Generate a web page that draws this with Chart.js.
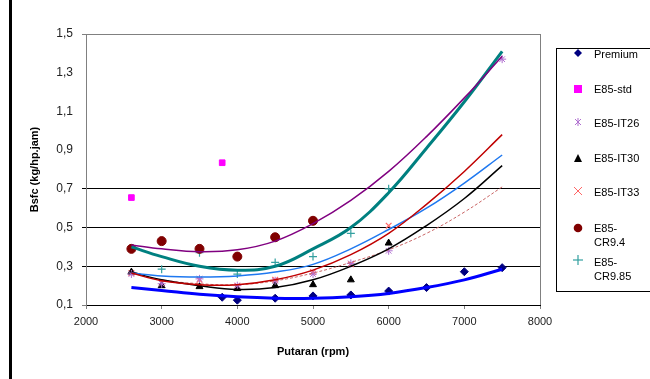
<!DOCTYPE html>
<html><head><meta charset="utf-8">
<script src="https://cdn.jsdelivr.net/npm/chart.js@4.4.0/dist/chart.umd.min.js"></script>
<style>
html,body{margin:0;padding:0;background:#fff;}
#wrap{position:relative;width:650px;height:379px;overflow:hidden;font-family:"Liberation Sans",Arial,sans-serif;background:#fff;}
#c{position:absolute;left:0;top:0;}
#bar{position:absolute;left:9px;top:0;width:3px;height:379px;background:#000;}
#legend{position:absolute;left:556px;top:48px;width:110px;height:244px;border:1px solid #000;box-sizing:border-box;overflow:hidden;}
.item{position:absolute;left:0;width:110px;font-size:11px;color:#000;}
.item svg{position:absolute;left:15px;}
.item span{position:absolute;left:37px;white-space:pre;line-height:14px;}
</style>
</head><body>
<div id="wrap">
<canvas id="c" width="650" height="379"></canvas>
<div id="bar"></div>
<div id="legend"></div>
</div>
<script>
// ---- data ----
const xTickLabels = ['2000','3000','4000','5000','6000','7000','8000'];
const yTickLabels = ['0,1','0,3','0,5','0,7','0,9','1,1','1,3','1,5'];

const premiumRpm  = [3800, 4000, 4500, 5000, 5500, 6000, 6500, 7000, 7500];
const premiumBsfc = [0.14, 0.125, 0.135, 0.147, 0.152, 0.172, 0.19, 0.272, 0.293];

const stdRpm  = [2600, 3800];
const stdBsfc = [0.655, 0.835];

const it26Rpm  = [2600, 3000, 3500, 4000, 4500, 5000, 5500, 6000, 7500];
const it26Bsfc = [0.26, 0.21, 0.235, 0.2, 0.225, 0.26, 0.315, 0.38, 1.37];

const it30Rpm  = [2600, 3000, 3500, 4000, 4500, 5000, 5500, 6000];
const it30Bsfc = [0.27, 0.2, 0.195, 0.185, 0.2, 0.205, 0.23, 0.42];

const it33Rpm  = [2600, 3000, 3500, 4000, 4500, 5000, 5500, 6000];
const it33Bsfc = [0.265, 0.215, 0.23, 0.2, 0.23, 0.27, 0.31, 0.51];

const cr94Rpm  = [2600, 3000, 3500, 4000, 4500, 5000];
const cr94Bsfc = [0.39, 0.43, 0.39, 0.35, 0.45, 0.535];

const cr985Rpm  = [3000, 3500, 4000, 4500, 5000, 5500, 6000];
const cr985Bsfc = [0.285, 0.37, 0.26, 0.32, 0.35, 0.47, 0.70];

// trend curves read at these engine speeds
const trendRpm      = [2600, 3000, 3500, 4000, 4500, 5000, 5500, 6000, 6500, 7000, 7500];
const trendPremium  = [0.19, 0.175, 0.155, 0.142, 0.135, 0.135, 0.143, 0.16, 0.19, 0.23, 0.285];
const trendPurple   = [0.41, 0.39, 0.375, 0.385, 0.43, 0.52, 0.64, 0.79, 0.97, 1.17, 1.385];
const trendTeal     = [0.40, 0.35, 0.30, 0.28, 0.30, 0.39, 0.50, 0.68, 0.91, 1.15, 1.41];
const trendBlack    = [0.27, 0.23, 0.20, 0.18, 0.19, 0.23, 0.30, 0.39, 0.51, 0.65, 0.82];
const trendRed      = [0.265, 0.225, 0.205, 0.205, 0.23, 0.28, 0.36, 0.47, 0.62, 0.79, 0.98];
const trendBlue     = [0.265, 0.25, 0.245, 0.25, 0.27, 0.31, 0.39, 0.49, 0.60, 0.73, 0.875];
const trendPink     = [0.265, 0.23, 0.21, 0.205, 0.225, 0.265, 0.32, 0.385, 0.47, 0.58, 0.71];

const legendLabels = ['Premium','E85-std','E85-IT26','E85-IT30','E85-IT33','E85-\nCR9.4','E85-\nCR9.85'];

// ---- helpers ----
const pts = (xs, ys) => xs.map((x, i) => ({x: x, y: ys[i]}));
function trend(ys, color, width, dash) {
  return {label: '', data: pts(trendRpm, ys), showLine: true, borderColor: color, borderWidth: width,
    borderDash: dash || [], pointRadius: 0, pointHoverRadius: 0, tension: 0.4, fill: false, order: 0};
}
function marks(label, xs, ys, style, color, r, bw) {
  return {label: label, data: pts(xs, ys), showLine: false, pointStyle: style, pointRadius: r,
    pointBackgroundColor: color, pointBorderColor: color, pointBorderWidth: bw || 1, order: 1};
}
const near = (v, t) => Math.abs(v - t) < 1e-6;

const datasets = [
  trend(trendPremium, '#0000FF', 3),
  trend(trendPurple, '#800080', 1.5),
  trend(trendTeal, '#008080', 3),
  trend(trendRed, '#C00000', 1.5),
  trend(trendBlue, '#1E78F0', 1.5),
  trend(trendBlack, '#000000', 1.5),
  trend(trendPink, '#C86464', 1, [3, 2]),
  marks('Premium', premiumRpm, premiumBsfc, 'rectRot', '#000080', 4),
  marks('E85-std', stdRpm, stdBsfc, 'rect', '#FF00FF', 4),
  marks('E85-IT26', it26Rpm, it26Bsfc, 'star', '#B070D0', 4, 1),
  marks('E85-IT30', it30Rpm, it30Bsfc, 'triangle', '#000000', 4),
  marks('E85-IT33', it33Rpm, it33Bsfc, 'crossRot', '#FF6666', 4, 1.2),
  marks('E85-CR9.4', cr94Rpm, cr94Bsfc, 'circle', '#800000', 4.5),
  marks('E85-CR9.85', cr985Rpm, cr985Bsfc, 'cross', '#33A0A0', 4, 1.2)
];

const FONT = '"Liberation Sans", Arial, sans-serif';

new Chart(document.getElementById('c'), {
  type: 'scatter',
  data: {datasets: datasets},
  options: {
    responsive: false,
    animation: false,
    devicePixelRatio: 1,
    layout: {padding: {top: 34, right: 110, left: 0, bottom: 0}},
    plugins: {legend: {display: false}, tooltip: {enabled: false}},
    scales: {
      x: {
        type: 'linear', min: 2000, max: 8000,
        afterFit: s => { s.height = 74; },
        ticks: {stepSize: 1000, padding: 6, color: '#222', font: {family: FONT, size: 11},
          maxRotation: 0, callback: (v) => xTickLabels[Math.round((v - 2000) / 1000)]},
        grid: {drawOnChartArea: true, tickLength: 4,
          color: c => (c.tick && near(c.tick.value, 8000)) ? '#808080' : 'rgba(0,0,0,0)',
          tickColor: '#808080'},
        border: {display: true, color: '#000000', width: 1},
        title: {display: true, text: 'Putaran (rpm)', color: '#000', padding: {bottom: 20, top: 0},
          font: {family: FONT, size: 11, weight: 'bold'}}
      },
      y: {
        min: 0.1, max: 1.5,
        afterFit: s => { s.width = 86; },
        ticks: {stepSize: 0.2, padding: 9, color: '#222', font: {family: FONT, size: 12},
          callback: (v) => yTickLabels[Math.round((v - 0.1) / 0.2)]},
        grid: {tickLength: 4,
          color: c => {
            const v = c.tick ? c.tick.value : 0;
            if (near(v, 0.3) || near(v, 0.5) || near(v, 0.7)) return '#000000';
            if (near(v, 1.5)) return '#808080';
            return 'rgba(0,0,0,0)';
          },
          tickColor: c => {
            const v = c.tick ? c.tick.value : 0;
            if (near(v, 0.3) || near(v, 0.5) || near(v, 0.7)) return '#000000';
            if (near(v, 1.5) || near(v, 0.1)) return '#808080';
            return 'rgba(0,0,0,0)';
          }},
        border: {display: true, color: '#808080', width: 1},
        title: {display: true, text: 'Bsfc (kg/hp.jam)', color: '#000', padding: {top: 28, bottom: 0},
          font: {family: FONT, size: 11, weight: 'bold'}}
      }
    }
  }
});

// ---- HTML legend ----
const markerSvg = [
  '<svg width="12" height="12"><polygon points="6,2 10,6 6,10 2,6" fill="#000080"/></svg>',
  '<svg width="12" height="12"><rect x="2" y="2" width="8" height="8" fill="#FF00FF"/></svg>',
  '<svg width="12" height="12"><g stroke="#B070D0" stroke-width="1"><line x1="3" y1="3" x2="9" y2="9"/><line x1="9" y1="3" x2="3" y2="9"/><line x1="6" y1="2" x2="6" y2="10"/></g></svg>',
  '<svg width="12" height="12"><polygon points="6,2 10,10 2,10" fill="#000"/></svg>',
  '<svg width="12" height="12"><g stroke="#FF6666" stroke-width="1"><line x1="2" y1="2" x2="10" y2="10"/><line x1="10" y1="2" x2="2" y2="10"/></g></svg>',
  '<svg width="12" height="12"><circle cx="6" cy="6" r="4.3" fill="#800000"/></svg>',
  '<svg width="12" height="12"><g stroke="#33A0A0" stroke-width="1.2"><line x1="6" y1="1" x2="6" y2="11"/><line x1="1" y1="6" x2="11" y2="6"/></g></svg>'
];
const markerY = [52, 88, 121, 157, 190, 227, 259];
const textTop = [46, 81, 115, 150, 184, 220, 254];
const lg = document.getElementById('legend');
legendLabels.forEach((t, i) => {
  const d = document.createElement('div');
  d.className = 'item';
  d.style.top = '0px';
  d.innerHTML = markerSvg[i];
  const svg = d.firstChild;
  svg.style.top = (markerY[i] - 48 - 6) + 'px';
  const sp = document.createElement('span');
  sp.textContent = t;
  sp.style.top = (textTop[i] - 48) + 'px';
  d.appendChild(sp);
  lg.appendChild(d);
});
</script>
</body></html>
